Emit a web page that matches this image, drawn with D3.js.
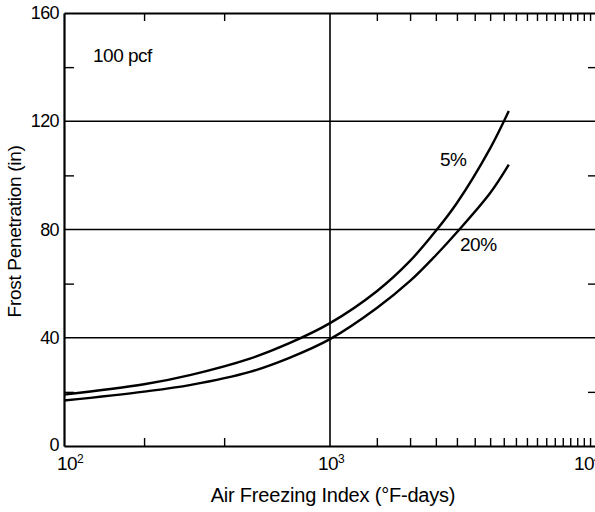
<!DOCTYPE html>
<html><head><meta charset="utf-8">
<script src="https://cdn.jsdelivr.net/npm/d3@7"></script>
<style>
html,body{margin:0;padding:0;background:#fff;}
text{font-family:"Liberation Sans",Arial,Helvetica,sans-serif;fill:#000;}
</style></head>
<body>
<script>
// Data
const afi      = [100, 200, 300, 500, 700, 1000, 1500, 2000, 2500, 3000, 4000, 4700];
const pen5     = [19, 22.8, 26.3, 32.3, 37.9, 45.4, 57.2, 68.4, 79.5, 89.8, 110, 123.8];
const pen20    = [16.8, 20.1, 22.6, 27.4, 32.5, 39.5, 51, 61, 70.5, 79, 93.5, 104];
const seriesNames = ["5%", "20%"];
const yLabels  = [0, 40, 80, 120, 160];
const yGrid    = [40, 80, 120];
const yMinor   = [20, 60, 100, 140];
const xMajor   = [100, 1000, 10000];
const xMinor   = [200, 400, 1500, 2000, 2500, 3000, 3500, 4000, 4500, 5000, 5500, 6000, 6500, 7000, 7500, 8000, 8500, 9000, 9500];

const W = 595, H = 512;
const svg = d3.select("body").append("svg").attr("width", W).attr("height", H);

const x = d3.scaleLog().domain([100, 10000]).range([64, 596]);
const y = d3.scaleLinear().domain([0, 160]).range([446, 13]);

// gridlines
svg.append("g").selectAll("line").data(yGrid).join("line")
  .attr("x1", x(100)).attr("x2", x(10000))
  .attr("y1", d => y(d)).attr("y2", d => y(d))
  .attr("stroke", "#000").attr("stroke-width", 1.6);
svg.append("line")
  .attr("x1", x(1000)).attr("x2", x(1000))
  .attr("y1", y(0)).attr("y2", y(160))
  .attr("stroke", "#000").attr("stroke-width", 1.6);

// axes with inward minor ticks
const axStyle = g => { g.select(".domain").attr("stroke", "#000").attr("stroke-width", 2.2);
  g.selectAll(".tick line").attr("stroke", "#000").attr("stroke-width", 1.4); };

svg.append("g").attr("transform", `translate(0,${y(0)})`)
  .call(d3.axisBottom(x).tickValues(xMinor).tickSize(-8).tickSizeOuter(0).tickFormat(""))
  .call(axStyle);
svg.append("g").attr("transform", `translate(0,${y(160)})`)
  .call(d3.axisTop(x).tickValues(xMinor).tickSize(-8).tickSizeOuter(0).tickFormat(""))
  .call(axStyle);
svg.append("g").attr("transform", `translate(${x(100)},0)`)
  .call(d3.axisLeft(y).tickValues(yMinor).tickSize(-10).tickSizeOuter(0).tickFormat(""))
  .call(axStyle);
svg.append("g").attr("transform", `translate(${x(10000)},0)`)
  .call(d3.axisRight(y).tickValues(yMinor).tickSize(-8).tickSizeOuter(0).tickFormat(""))
  .call(axStyle);

// y tick labels
svg.append("g").selectAll("text").data(yLabels).join("text")
  .attr("x", 59).attr("y", d => y(d) + 6 - (d === 0 ? 1 : 0))
  .attr("text-anchor", "end").attr("font-size", 18).attr("letter-spacing", -0.6)
  .text(d => d);

// x major labels with superscripts
const xl = svg.append("g").selectAll("text").data(xMajor).join("text")
  .attr("x", d => x(d) - (d === 100 ? 7 : d === 10000 ? 22 : 12)).attr("y", 470)
  .attr("font-size", 19).attr("letter-spacing", -0.6);
xl.each(function(d) {
  const t = d3.select(this);
  t.append("tspan").text("10");
  t.append("tspan").attr("dy", -7).attr("font-size", 12).text(Math.round(Math.log10(d)));
});

// axis titles
svg.append("text").attr("x", 333).attr("y", 502).attr("text-anchor", "middle")
  .attr("font-size", 20).attr("letter-spacing", -0.2).text("Air Freezing Index (°F-days)");
svg.append("text").attr("transform", `translate(21,${(y(0)+y(160))/2 + 2}) rotate(-90)`)
  .attr("text-anchor", "middle").attr("font-size", 19).attr("letter-spacing", -0.3)
  .text("Frost Penetration (in)");

// annotation
svg.append("text").attr("x", 93).attr("y", 62).attr("font-size", 19).attr("letter-spacing", -0.5).text("100 pcf");

// curves
const line = d3.line().x(d => x(d[0])).y(d => y(d[1])).curve(d3.curveCatmullRom.alpha(0.5));
[pen5, pen20].forEach(vals => {
  svg.append("path").datum(afi.map((a, i) => [a, vals[i]]))
    .attr("d", line).attr("fill", "none").attr("stroke", "#000").attr("stroke-width", 2.4);
});

// series labels
svg.append("text").attr("x", 440).attr("y", 166).attr("font-size", 19).attr("letter-spacing", -0.5).text(seriesNames[0]);
svg.append("text").attr("x", 460).attr("y", 251).attr("font-size", 19).attr("letter-spacing", -0.5).text(seriesNames[1]);
</script>
</body></html>
